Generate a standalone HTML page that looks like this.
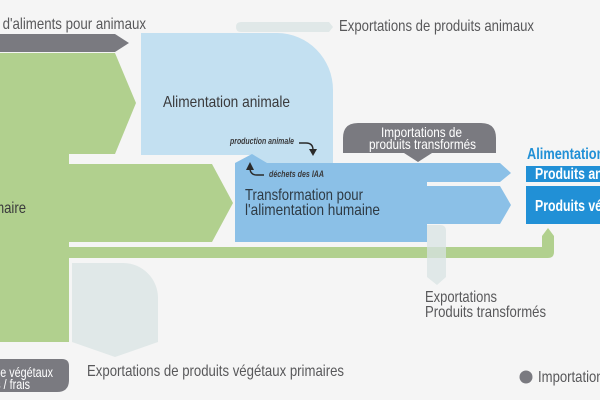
<!DOCTYPE html>
<html><head><meta charset="utf-8">
<style>
html,body{margin:0;padding:0;background:#f5f5f5;}
svg{display:block;}
text{font-family:"Liberation Sans",sans-serif;}
</style></head>
<body>
<svg width="600" height="400" viewBox="0 0 600 400" xmlns="http://www.w3.org/2000/svg">
<rect x="0" y="0" width="600" height="400" fill="#f5f5f5"/>

<!-- top dark grey arrow -->
<path d="M0,34 H115 L129,43 L115,52 H0 Z" fill="#7a7a80"/>
<text transform="translate(146,29) scale(0.83,1)" text-anchor="end" font-size="16" fill="#58585a">Importations d'aliments pour animaux</text>

<!-- top export bar -->
<path d="M241,22 H329 L333,27 L329,32 H241 Q236,32 236,27 Q236,22 241,22 Z" fill="#e0e8e8"/>
<text x="339" y="31" font-size="16" fill="#58585a" textLength="195" lengthAdjust="spacingAndGlyphs">Exportations de produits animaux</text>

<!-- green main -->
<rect x="0" y="53" width="69" height="289" fill="#b1d08e"/>
<path d="M0,53 H115 L136,103 L115,154 H0 Z" fill="#b1d08e"/>
<path d="M69,164 H212 L233,203 L212,242 H69 Z" fill="#b1d08e"/>
<path d="M69,247 H542 V236 L548,228 L554,236 V252 Q554,258 548,258 H69 Z" fill="#b1d08e"/>
<text transform="translate(26,213) scale(0.82,1)" text-anchor="end" font-size="16" fill="#3a3a3c">Production primaire</text>

<!-- light blue animal box -->
<path d="M141,33 H277 A56,57 0 0 1 333,90 V163 H252 V155 H141 Z" fill="#c3e0f1"/>
<text x="163" y="107" font-size="16" fill="#3a3a3c" textLength="127" lengthAdjust="spacingAndGlyphs">Alimentation animale</text>

<!-- transformation blue -->
<path d="M235,163 L252,154 L267,163 H500 L511,173 L500,182 H427 V186 H500 L511,205 L500,224 H427 V242 H235 Z" fill="#8bc0e7"/>
<text x="245" y="200" font-size="16" fill="#2e3a44" textLength="118" lengthAdjust="spacingAndGlyphs">Transformation pour</text>
<text x="245" y="215" font-size="16" fill="#2e3a44" textLength="135" lengthAdjust="spacingAndGlyphs">l'alimentation humaine</text>

<!-- small labels and arrows -->
<text x="230" y="144" font-size="9" font-style="italic" font-weight="bold" fill="#3a3a3c" textLength="64" lengthAdjust="spacingAndGlyphs">production animale</text>
<path d="M299,143 H306 Q313,143 313,150" fill="none" stroke="#2a2a2a" stroke-width="1.4"/>
<path d="M309,149 L317,149 L313,156 Z" fill="#2a2a2a"/>
<text x="269" y="177" font-size="9" font-style="italic" font-weight="bold" fill="#3a3a3c" textLength="55" lengthAdjust="spacingAndGlyphs">déchets des IAA</text>
<path d="M264,175 H257 Q250,175 250,168" fill="none" stroke="#2a2a2a" stroke-width="1.4"/>
<path d="M246,170 L254,170 L250,162 Z" fill="#2a2a2a"/>

<!-- import bubble -->
<path d="M343,153 V138 Q343,123 358,123 H481 Q496,123 496,138 V153 H432 L418,162 L404,153 Z" fill="#7a7a80"/>
<text x="381" y="137" font-size="14" fill="#ffffff" textLength="81" lengthAdjust="spacingAndGlyphs">Importations de</text>
<text x="369" y="149" font-size="14" fill="#ffffff" textLength="107" lengthAdjust="spacingAndGlyphs">produits transformés</text>

<!-- right blue -->
<text transform="translate(527,159) scale(0.8,1)" font-size="16" font-weight="bold" fill="#2190d6">Alimentation humaine</text>
<rect x="526" y="166" width="74" height="16" fill="#2190d6"/>
<rect x="526" y="186" width="74" height="38" fill="#2190d6"/>
<text transform="translate(535,179) scale(0.77,1)" font-size="16" font-weight="bold" fill="#ffffff">Produits animaux</text>
<text transform="translate(535,211) scale(0.77,1)" font-size="16" font-weight="bold" fill="#ffffff">Produits végétaux</text>

<!-- export transformed -->
<path d="M427,225 H440 Q446,225 446,231 V277 L437,285 L427,277 Z" fill="#d8e3e3" fill-opacity="0.75"/>
<text x="425" y="302" font-size="16" fill="#58585a" textLength="72" lengthAdjust="spacingAndGlyphs">Exportations</text>
<text x="425" y="317" font-size="16" fill="#58585a" textLength="121" lengthAdjust="spacingAndGlyphs">Produits transformés</text>

<!-- export vegetal -->
<path d="M72,263 H123 A35,35 0 0 1 158,298 V342 L115,357 L72,342 Z" fill="#e0e8e8"/>
<text x="87" y="376" font-size="16" fill="#58585a" textLength="257" lengthAdjust="spacingAndGlyphs">Exportations de produits végétaux primaires</text>

<!-- bottom-left dark callout -->
<path d="M0,359 H62 Q69,359 69,366 V380 Q69,392 57,392 H0 Z" fill="#7a7a80"/>
<text transform="translate(53,377) scale(0.77,1)" text-anchor="end" font-size="14" fill="#ffffff">Importations de végétaux</text>
<text transform="translate(30,389) scale(0.77,1)" text-anchor="end" font-size="14" fill="#ffffff">bruts / frais</text>

<!-- legend -->
<circle cx="526" cy="377" r="6.5" fill="#7a7a80"/>
<text transform="translate(538,382) scale(0.82,1)" font-size="16" fill="#58585a">Importations</text>
</svg>
</body></html>
